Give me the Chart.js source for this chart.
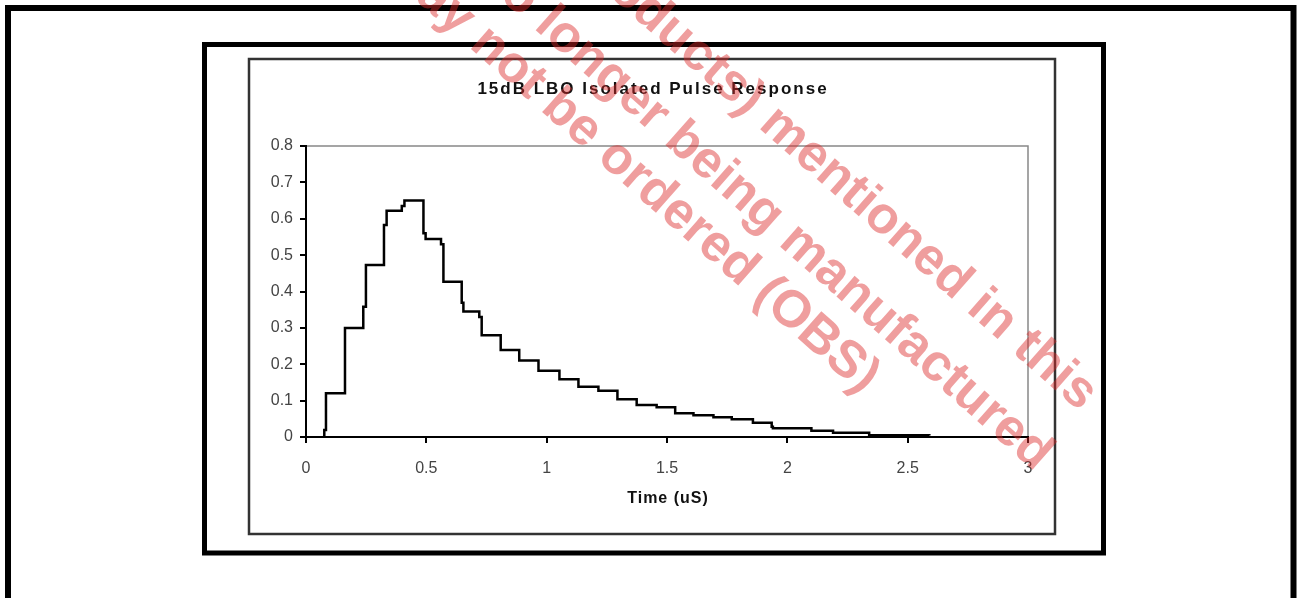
<!DOCTYPE html>
<html>
<head>
<meta charset="utf-8">
<script src="https://cdn.jsdelivr.net/npm/chart.js@4/dist/chart.umd.min.js"></script>
<style>
  html, body { margin: 0; padding: 0; background: #fff; }
  canvas { display: block; }
</style>
</head>
<body>
<canvas id="pulseChart" width="1299" height="598" style="width:1299px;height:598px"></canvas>
<script>
// pulse response (time in uS, amplitude)
const times = [0.07, 0.076, 0.083, 0.162, 0.238, 0.249, 0.324, 0.335, 0.398, 0.409,
  0.488, 0.497, 0.561, 0.571, 0.647, 0.654, 0.72, 0.73, 0.809, 0.886,
  0.966, 1.053, 1.132, 1.215, 1.294, 1.374, 1.457, 1.534, 1.61, 1.693,
  1.769, 1.857, 1.935, 1.94, 2.10, 2.19, 2.34, 2.59];
const amplitude = [0, 0.019, 0.12, 0.30, 0.358, 0.473, 0.583, 0.622, 0.635, 0.65,
  0.56, 0.544, 0.53, 0.427, 0.369, 0.345, 0.33, 0.28, 0.239, 0.21,
  0.182, 0.159, 0.138, 0.127, 0.104, 0.088, 0.082, 0.065, 0.060, 0.054,
  0.049, 0.039, 0.028, 0.024, 0.017, 0.012, 0.005, 0.004];

const xTickLabels = ["0", "0.5", "1", "1.5", "2", "2.5", "3"];
const yTickLabels = ["0", "0.1", "0.2", "0.3", "0.4", "0.5", "0.6", "0.7", "0.8"];

const chartTitle = "15dB LBO Isolated Pulse Response";
const xTitle = "Time (uS)";
const watermark = [
  "The (products) mentioned in this",
  "document is no longer being manufactured",
  "and may not be ordered (OBS)"
];

const framePlugin = {
  id: "frames",
  beforeDraw(chart) {
    const ctx = chart.ctx;
    const a = chart.chartArea;
    ctx.save();
    ctx.fillStyle = "#fff";
    ctx.fillRect(0, 0, chart.width, chart.height);

    ctx.strokeStyle = "#000";
    ctx.lineWidth = 6;
    ctx.strokeRect(8, 8, 1285.5, 600);
    ctx.lineWidth = 5;
    ctx.strokeRect(204.5, 44.5, 899, 508.5);
    ctx.strokeStyle = "#333";
    ctx.lineWidth = 2.5;
    ctx.strokeRect(249, 59, 806, 475);

    // plot box top/right edges
    ctx.strokeStyle = "#888";
    ctx.lineWidth = 1.5;
    ctx.beginPath();
    ctx.moveTo(a.left, a.top);
    ctx.lineTo(a.right, a.top);
    ctx.lineTo(a.right, a.bottom);
    ctx.stroke();

    ctx.fillStyle = "#111";
    ctx.textAlign = "center";
    ctx.textBaseline = "middle";
    ctx.font = "bold 17px 'Liberation Sans', Arial, sans-serif";
    ctx.letterSpacing = "2px";
    ctx.fillText(chartTitle, 653, 89);
    ctx.font = "bold 16px 'Liberation Sans', Arial, sans-serif";
    ctx.letterSpacing = "1px";
    ctx.fillText(xTitle, 668, 499);
    ctx.restore();
  },
  afterDraw(chart) {
    const ctx = chart.ctx;
    const ends = [[1080, 412], [1035, 472], [862, 395]];
    ctx.save();
    ctx.fillStyle = "rgba(220, 40, 40, 0.45)";
    ctx.font = "bold 52px 'Liberation Sans', Arial, sans-serif";
    ctx.textAlign = "right";
    ctx.textBaseline = "alphabetic";
    watermark.forEach((line, i) => {
      ctx.save();
      ctx.translate(ends[i][0], ends[i][1]);
      ctx.rotate(41.5 * Math.PI / 180);
      ctx.fillText(line, 0, 0);
      ctx.restore();
    });
    ctx.restore();
  }
};

new Chart(document.getElementById("pulseChart"), {
  type: "line",
  data: {
    datasets: [{
      data: times.map((t, i) => ({ x: t, y: amplitude[i] })),
      stepped: true,
      borderColor: "#000",
      borderWidth: 2.5,
      pointRadius: 0,
      fill: false
    }]
  },
  options: {
    responsive: false,
    animation: false,
    devicePixelRatio: 1,
    layout: { padding: { left: 0, top: 146, right: 271, bottom: 0 } },
    plugins: { legend: { display: false }, tooltip: { enabled: false } },
    scales: {
      x: {
        type: "linear",
        min: 0,
        max: 3,
        afterFit(scale) { scale.height = 161; },
        ticks: {
          stepSize: 0.5,
          padding: 16,
          color: "#444",
          font: { family: "'Liberation Sans', Arial, sans-serif", size: 16 },
          callback: (v, i) => xTickLabels[i]
        },
        grid: { drawOnChartArea: false, drawTicks: true, tickLength: 6, color: "#000", lineWidth: 2 },
        border: { color: "#000", width: 2 }
      },
      y: {
        min: 0,
        max: 0.8,
        afterFit(scale) { scale.width = 306; },
        ticks: {
          stepSize: 0.1,
          padding: 7,
          color: "#444",
          font: { family: "'Liberation Sans', Arial, sans-serif", size: 16 },
          callback: (v, i) => yTickLabels[i]
        },
        grid: { drawOnChartArea: false, drawTicks: true, tickLength: 6, color: "#000", lineWidth: 2 },
        border: { color: "#000", width: 2 }
      }
    }
  },
  plugins: [framePlugin]
});
</script>
</body>
</html>
